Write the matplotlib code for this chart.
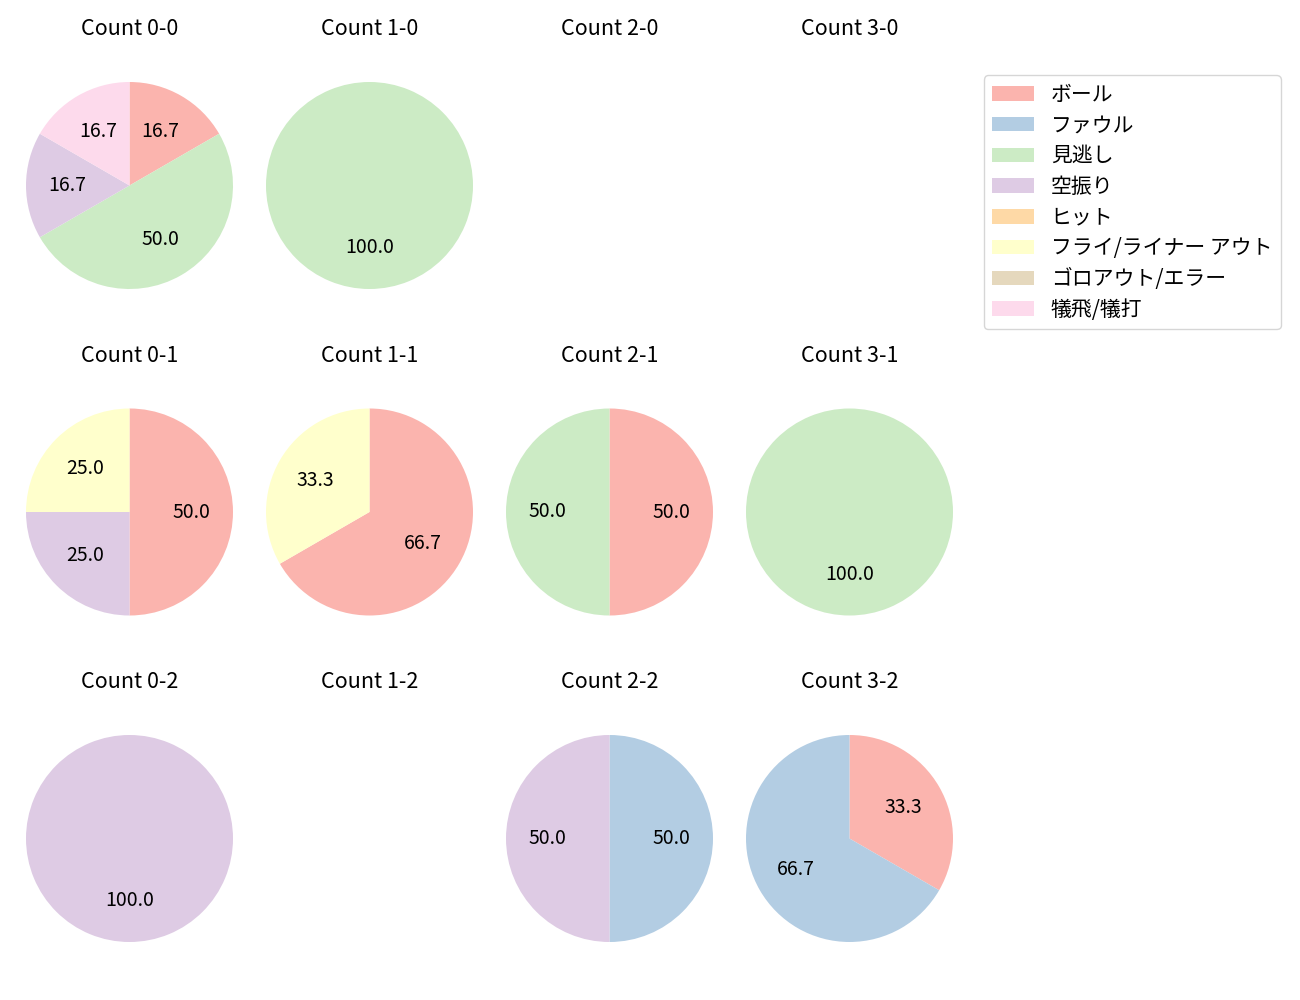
import matplotlib
matplotlib.use("Agg")
import matplotlib.pyplot as plt
from matplotlib.patches import Patch

plt.rcParams['font.family'] = ['Noto Sans CJK JP', 'DejaVu Sans']

# pitch result categories (legend order)
categories = ['ボール', 'ファウル', '見逃し', '空振り', 'ヒット',
              'フライ/ライナー アウト', 'ゴロアウト/エラー', '犠飛/犠打']
colors = ['#fbb4ae', '#b3cde3', '#ccebc5', '#decbe4',
          '#fed9a6', '#ffffcc', '#e5d8bd', '#fddaec']

# counts, row by row: strikes 0..2, balls 0..3
count_labels = ['0-0', '1-0', '2-0', '3-0',
                '0-1', '1-1', '2-1', '3-1',
                '0-2', '1-2', '2-2', '3-2']

ball      = [1, 0, 0, 0, 2, 2, 1, 0, 0, 0, 0, 1]
foul      = [0, 0, 0, 0, 0, 0, 0, 0, 0, 0, 1, 2]
looking   = [3, 1, 0, 0, 0, 0, 1, 1, 0, 0, 0, 0]
swinging  = [1, 0, 0, 0, 1, 0, 0, 0, 1, 0, 1, 0]
hit       = [0, 0, 0, 0, 0, 0, 0, 0, 0, 0, 0, 0]
fly_out   = [0, 0, 0, 0, 1, 1, 0, 0, 0, 0, 0, 0]
ground    = [0, 0, 0, 0, 0, 0, 0, 0, 0, 0, 0, 0]
sacrifice = [1, 0, 0, 0, 0, 0, 0, 0, 0, 0, 0, 0]

series = [ball, foul, looking, swinging, hit, fly_out, ground, sacrifice]

W, H = 1300, 1000
fig = plt.figure(figsize=(13, 10), dpi=100)

col_x = [129.5, 369.5, 609.5, 849.5]
row_y = [185.5, 512, 838.5]
side = 2.5 * 103.5

for i, label in enumerate(count_labels):
    r, c = divmod(i, 4)
    cx, cy = col_x[c], row_y[r]
    ax = fig.add_axes([(cx - side / 2) / W, 1 - (cy + side / 2) / H, side / W, side / H])
    vals = [s[i] for s in series]
    sizes = [v for v in vals if v > 0]
    cols = [colors[k] for k, v in enumerate(vals) if v > 0]
    if sizes:
        ax.pie(sizes, colors=cols, startangle=90, counterclock=False,
               autopct='%.1f', textprops={'fontsize': 14})
    ax.set_xlim(-1.25, 1.25)
    ax.set_ylim(-1.25, 1.25)
    ax.axis('off')
    ax.set_title('Count ' + label, fontsize=15.5, pad=15)

handles = [Patch(facecolor=c) for c in colors]
fig.legend(handles, categories, loc='upper right',
           bbox_to_anchor=(1291 / W, 1 - 65 / H), fontsize=15,
           labelspacing=0.42)

fig.savefig('out.png')
